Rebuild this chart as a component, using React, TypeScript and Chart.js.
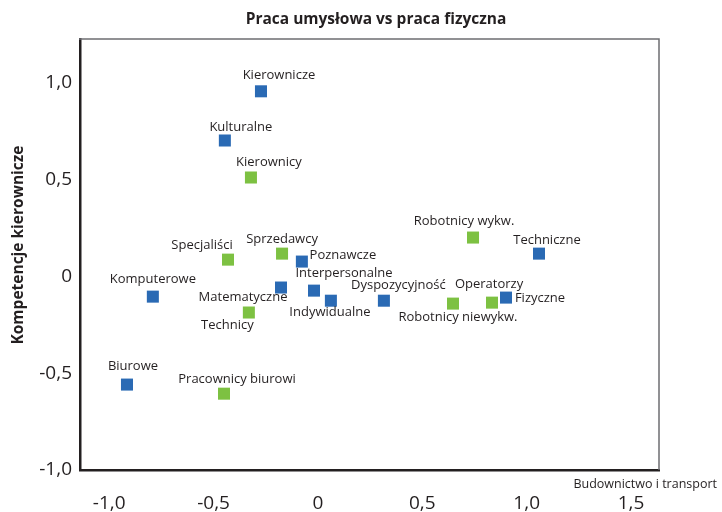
import React, { useEffect, useRef } from "react";
import { Chart, registerables } from "chart.js";

Chart.register(...registerables);

const TITLE = "Praca umysłowa vs praca fizyczna";
const X_TITLE = "Budownictwo i transport";
const Y_TITLE = "Kompetencje kierownicze";

const xTicks = [-1, -0.5, 0, 0.5, 1, 1.5];
const yTicks = [-1, -0.5, 0, 0.5, 1];

const blueLabels = [
  "Kierownicze",
  "Kulturalne",
  "Techniczne",
  "Poznawcze",
  "Matematyczne",
  "Interpersonalne",
  "Indywidualne",
  "Dyspozycyjność",
  "Fizyczne",
  "Komputerowe",
  "Biurowe",
];
const blueX = [-0.273, -0.446, 1.059, -0.077, -0.177, -0.019, 0.062, 0.316, 0.901, -0.791, -0.915];
const blueY = [0.955, 0.701, 0.117, 0.076, -0.058, -0.074, -0.126, -0.126, -0.11, -0.105, -0.559];

const greenLabels = [
  "Kierownicy",
  "Robotnicy wykw.",
  "Specjaliści",
  "Sprzedawcy",
  "Technicy",
  "Robotnicy niewykw.",
  "Operatorzy",
  "Pracownicy biurowi",
];
const greenX = [-0.321, 0.743, -0.431, -0.172, -0.331, 0.647, 0.834, -0.45];
const greenY = [0.51, 0.2, 0.086, 0.117, -0.187, -0.141, -0.136, -0.606];

// label placement relative to its point (layout only)
const BLUE_LABEL_OFFSETS: [number, number][] = [
  [18, -16], [16, -13], [8, -13], [41, -6], [-38, 10], [30, -17],
  [-1, 12], [14.5, -15], [34, 1], [0, -17], [6, -18],
];
const GREEN_LABEL_OFFSETS: [number, number][] = [
  [18, -15], [-9, -16], [-26, -14], [0, -14], [-21.5, 13], [5, 14], [-3, -18], [13, -14],
];

const BLUE = "#2a6ab4";
const GREEN = "#7dc142";
const TEXT = "#231f20";
const FONT = "'Open Sans'";

const fmt = (v: number | string) => {
  const n = Number(v);
  if (n === 0) return "0";
  return n.toFixed(1).replace(".", ",");
};

const decorPlugin = {
  id: "decor",
  afterDatasetsDraw(chart: any) {
    const ctx = chart.ctx;
    ctx.save();
    ctx.font = `13px ${FONT}`;
    ctx.fillStyle = TEXT;
    ctx.textAlign = "center";
    ctx.textBaseline = "middle";
    const sets = [
      { labels: blueLabels, offs: BLUE_LABEL_OFFSETS },
      { labels: greenLabels, offs: GREEN_LABEL_OFFSETS },
    ];
    sets.forEach((s, di) => {
      const meta = chart.getDatasetMeta(di);
      meta.data.forEach((el: any, i: number) => {
        const [dx, dy] = s.offs[i];
        ctx.fillText(s.labels[i], el.x + dx, el.y + dy);
      });
    });
    ctx.restore();
  },
  afterDraw(chart: any) {
    const ctx = chart.ctx;
    const a = chart.chartArea;
    ctx.save();
    // top & right frame
    ctx.strokeStyle = "#6d6e71";
    ctx.lineWidth = 1.5;
    ctx.beginPath();
    ctx.moveTo(a.left - 1, a.top);
    ctx.lineTo(a.right, a.top);
    ctx.lineTo(a.right, a.bottom);
    ctx.stroke();
    // chart title
    ctx.fillStyle = TEXT;
    ctx.textAlign = "center";
    ctx.textBaseline = "middle";
    ctx.font = `bold 15.5px ${FONT}`;
    ctx.fillText(TITLE, 376, 20);
    // x-axis title
    ctx.font = `12.5px ${FONT}`;
    ctx.textAlign = "right";
    ctx.fillText(X_TITLE, 717, 484);
    // y-axis title
    ctx.translate(19, 245);
    ctx.rotate(-Math.PI / 2);
    ctx.textAlign = "center";
    ctx.font = `bold 15.5px ${FONT}`;
    ctx.fillText(Y_TITLE, 0, 0);
    ctx.restore();
  },
};

export default function App() {
  const ref = useRef<HTMLCanvasElement | null>(null);

  useEffect(() => {
    if (!ref.current) return;
    Chart.defaults.font.family = FONT;
    const chart = new Chart(ref.current, {
      type: "scatter",
      data: {
        datasets: [
          {
            label: "Kompetencje",
            data: blueX.map((x, i) => ({ x, y: blueY[i] })),
            backgroundColor: BLUE,
            borderWidth: 0,
            pointStyle: "rect",
            pointRadius: 8.5,
            pointHoverRadius: 8.5,
          },
          {
            label: "Zawody",
            data: greenX.map((x, i) => ({ x, y: greenY[i] })),
            backgroundColor: GREEN,
            borderWidth: 0,
            pointStyle: "rect",
            pointRadius: 8.5,
            pointHoverRadius: 8.5,
          },
        ],
      },
      options: {
        animation: false,
        responsive: true,
        maintainAspectRatio: false,
        layout: { padding: { top: 39, right: 63, left: 0, bottom: 0 } },
        plugins: {
          legend: { display: false },
          tooltip: { enabled: false },
          title: { display: false },
        },
        scales: {
          x: {
            type: "linear",
            min: -1.14,
            max: 1.634,
            grid: { display: false, drawTicks: false },
            border: { display: true, color: TEXT, width: 2.5 },
            ticks: {
              color: TEXT,
              font: { size: 19, family: FONT },
              padding: 22,
              maxRotation: 0,
              autoSkip: false,
              callback: (v: any) => fmt(v),
            },
            afterBuildTicks: (s: any) => {
              s.ticks = xTicks.map((v) => ({ value: v }));
            },
            afterFit: (s: any) => {
              s.height = 42;
            },
          },
          y: {
            type: "linear",
            min: -1.0,
            max: 1.225,
            grid: { display: false, drawTicks: false },
            border: { display: true, color: TEXT, width: 2.5 },
            ticks: {
              color: TEXT,
              font: { size: 19, family: FONT },
              padding: 8,
              autoSkip: false,
              callback: (v: any) => fmt(v),
            },
            afterBuildTicks: (s: any) => {
              s.ticks = yTicks.map((v) => ({ value: v }));
            },
            afterFit: (s: any) => {
              s.width = 80;
            },
          },
        },
      },
      plugins: [decorPlugin],
    });
    return () => chart.destroy();
  }, []);

  return (
    <div style={{ position: "fixed", left: 0, top: 0, width: 722, height: 512, background: "#fff" }}>
      <canvas ref={ref} />
    </div>
  );
}
